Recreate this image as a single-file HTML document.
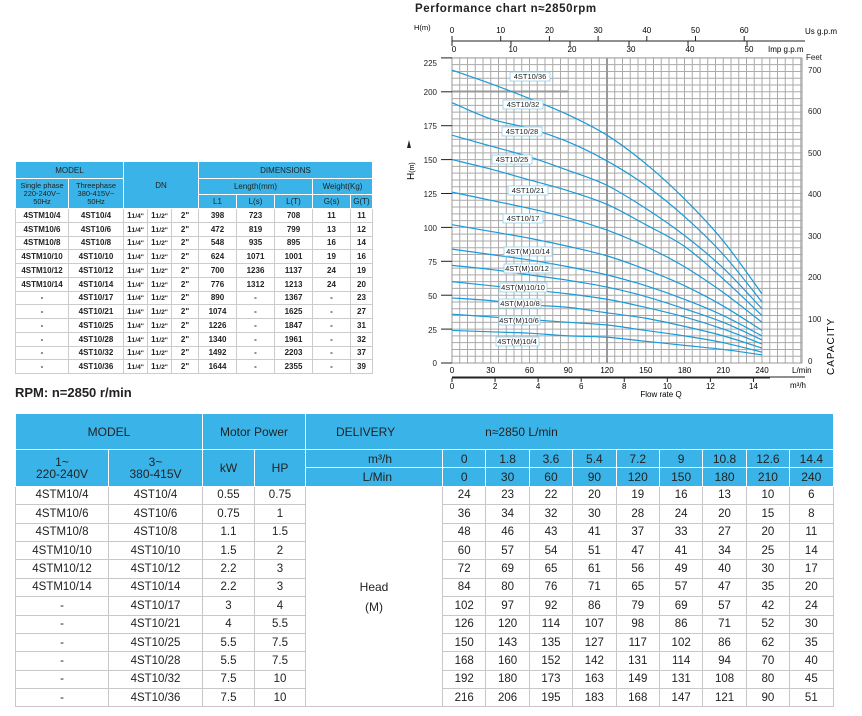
<!DOCTYPE html>
<html><head><meta charset="utf-8"><style>
*{margin:0;padding:0;box-sizing:border-box}
body{width:862px;height:716px;background:#fff;position:relative;overflow:hidden;font-family:"Liberation Sans",Arial,sans-serif;color:#222}
table{border-collapse:collapse;table-layout:fixed;position:absolute}
td{text-align:center;vertical-align:middle;overflow:hidden;white-space:nowrap;padding:0}
.t1{left:15px;top:161px;font-size:8px;font-weight:bold}
.t1 td{border:1px solid #ccc;height:13.75px}
.t1 .h td,.t1 td.h{background:#3ab4e8;border:1px solid #fff;font-weight:normal;color:#222}
.t2{left:15px;top:413px;font-size:11.5px}
.t2 td{border:1px solid #c8c8c8;height:18.4px}
.t2 td.h{background:#3ab4e8;border:1px solid #fff;font-size:12px}
.hd{position:absolute;font-weight:bold}
svg text{font-family:"Liberation Sans",Arial,sans-serif}
</style></head><body>
<div class="hd" style="left:415px;top:3px;font-size:11.5px;letter-spacing:.6px">Performance chart n≈2850rpm</div>
<div class="hd" style="left:15px;top:385px;font-size:13px">RPM: n=2850 r/min</div>

<svg id="ch" width="862" height="405" style="position:absolute;left:0;top:0">
<g id="grid"></g>
<g id="curves" fill="none" stroke="#1a9ad8" stroke-width="1.2"></g>
<g font-size="8" fill="#222" text-anchor="end">
<text x="437" y="66">225</text><text x="437" y="95">200</text><text x="437" y="129">175</text><text x="437" y="163">150</text><text x="437" y="197">125</text><text x="437" y="231">100</text><text x="437" y="265">75</text><text x="437" y="299">50</text><text x="437" y="333">25</text><text x="437" y="366">0</text>
</g>
<g font-size="8" fill="#222" text-anchor="start">
<text x="808" y="73">700</text><text x="808" y="114">600</text><text x="808" y="156">500</text><text x="808" y="197">400</text><text x="808" y="239">300</text><text x="808" y="280">200</text><text x="808" y="322">100</text><text x="808" y="364">0</text>
<text x="806" y="60">Feet</text>
</g>
<text x="414" y="30" font-size="7.5">H(m)</text>
<text x="805" y="34" font-size="8">Us g.p.m</text>
<text x="768" y="52" font-size="8">Imp g.p.m</text>
<g font-size="8" text-anchor="middle" id="topl"></g>
<line x1="452" y1="41" x2="805" y2="41" stroke="#222" stroke-width="1"/>
<line x1="452" y1="377" x2="805" y2="377" stroke="#222"/>
<line x1="452" y1="378" x2="770" y2="378" stroke="#222"/>
<text x="792" y="373" font-size="8">L/min</text>
<text x="790" y="388" font-size="8">m³/h</text>
<text x="661" y="397" font-size="8" text-anchor="middle">Flow rate Q</text>
<text transform="translate(834,375) rotate(-90)" font-size="10" letter-spacing="1">CAPACITY</text>
<text transform="translate(414,180) rotate(-90)" font-size="10">H<tspan font-size="7">(m)</tspan></text>
<polygon points="407,148 411,148 409,140" fill="#222"/>
<g font-size="7.5" text-anchor="middle" id="labels"></g>
</svg>

<script>
(function(){
var ns="http://www.w3.org/2000/svg";
function el(p,t,a){var e=document.createElementNS(ns,t);for(var k in a)e.setAttribute(k,a[k]);p.appendChild(e);return e;}
var g=document.getElementById('grid');
var X0=452,XR=802,Y0=363,YT=58,px=1.2917,py=1.356;
for(var i=0;i*7.75<=XR-X0+0.5;i++){var x=X0+i*7.75;el(g,'line',{x1:x,y1:YT,x2:x,y2:Y0,stroke:'#aaa','stroke-width':1});}
for(var j=0;j*6.78<=Y0-YT+0.5;j++){var y=Y0-j*6.78;el(g,'line',{x1:X0,y1:y,x2:XR,y2:y,stroke:'#aaa','stroke-width':1});}
el(g,'rect',{x:X0,y:YT,width:XR-X0,height:Y0-YT,fill:'none',stroke:'#999'});
el(g,'line',{x1:607,y1:YT,x2:607,y2:Y0,stroke:'#999','stroke-width':2});
el(g,'line',{x1:X0,y1:91.5,x2:568,y2:91.5,stroke:'#999','stroke-width':2});
for(var k=0;k<=9;k++){var y=Y0-k*25*py;el(g,'line',{x1:441,y1:y,x2:452,y2:y,stroke:'#222'});}
var tl=document.getElementById('topl');
for(var k=0;k<=6;k++){var x=452+k*10*4.87;el(g,'line',{x1:x,y1:36,x2:x,y2:41,stroke:'#222'});var t=el(tl,'text',{x:x,y:33});t.textContent=k*10;}
for(var k=0;k<=5;k++){var x=452+k*10*5.9;el(g,'line',{x1:x,y1:41,x2:x,y2:46,stroke:'#222'});var t=el(tl,'text',{x:x+2,y:52});t.textContent=k*10;}
for(var k=0;k<=8;k++){var x=452+k*30*px;var t=el(tl,'text',{x:x,y:373});t.textContent=k*30;}
for(var k=0;k<=7;k++){var x=452+k*2*16.67*px;el(g,'line',{x1:x,y1:378,x2:x,y2:382,stroke:'#222'});var t=el(tl,'text',{x:x,y:389});t.textContent=k*2;}
var D=[[24,23,22,20,19,16,13,10,6],[36,34,32,30,28,24,20,15,8],[48,46,43,41,37,33,27,20,11],[60,57,54,51,47,41,34,25,14],[72,69,65,61,56,49,40,30,17],[84,80,76,71,65,57,47,35,20],[102,97,92,86,79,69,57,42,24],[126,120,114,107,98,86,71,52,30],[150,143,135,127,117,102,86,62,35],[168,160,152,142,131,114,94,70,40],[192,180,173,163,149,131,108,80,45],[216,206,195,183,168,147,121,90,51]];
var c=document.getElementById('curves');
D.forEach(function(r){var P=r.map(function(h,i){return [X0+i*30*px,Y0-h*py];});
var d='M'+P[0][0]+','+P[0][1];
for(var i=0;i<P.length-1;i++){var p0=P[i-1]||P[i],p1=P[i],p2=P[i+1],p3=P[i+2]||P[i+1];
d+=' C'+(p1[0]+(p2[0]-p0[0])/6)+','+(p1[1]+(p2[1]-p0[1])/6)+' '+(p2[0]-(p3[0]-p1[0])/6)+','+(p2[1]-(p3[1]-p1[1])/6)+' '+p2[0]+','+p2[1];}
el(c,'path',{d:d});});
var L=[[510,72,40],[503,100,40],[502,127,40],[492,155,40],[508,186,40],[503,214,40],[504,247,48],[504,264,47],[500,283,47],[499,299,42],[499,316,41],[496,337,43]];
var lg=document.getElementById('labels');
L.forEach(function(l){el(lg,'rect',{x:l[0],y:l[1],width:l[2],height:9,fill:'#fff',stroke:'#8fd0ef','stroke-width':0.8});});
})();
</script>
<svg width="862" height="405" style="position:absolute;left:0;top:0">
<g font-size="7.5" text-anchor="middle" fill="#222" font-family="Liberation Sans,sans-serif">
<text x="530" y="79">4ST10/36</text><text x="523" y="107">4ST10/32</text><text x="522" y="134">4ST10/28</text><text x="512" y="162">4ST10/25</text><text x="528" y="193">4ST10/21</text><text x="523" y="221">4ST10/17</text><text x="528" y="254">4ST(M)10/14</text><text x="527" y="271">4ST(M)10/12</text><text x="523" y="290">4ST(M)10/10</text><text x="520" y="306">4ST(M)10/8</text><text x="519" y="323">4ST(M)10/6</text><text x="517" y="344">4ST(M)10/4</text>
</g></svg>

<table class="t1">
<colgroup><col style="width:53px"><col style="width:55px"><col style="width:24px"><col style="width:24px"><col style="width:27px"><col style="width:38px"><col style="width:38px"><col style="width:38px"><col style="width:38px"><col style="width:22px"></colgroup>
<tr class="h"><td colspan="2" style="height:17px">MODEL</td><td colspan="3" rowspan="3">DN</td><td colspan="5">DIMENSIONS</td></tr>
<tr class="h"><td rowspan="2" style="font-size:7.5px;line-height:8px">Single phase<br>220-240V~<br>50Hz</td><td rowspan="2" style="font-size:7.5px;line-height:8px">Threephase<br>380-415V~<br>50Hz</td><td colspan="3" style="height:16px">Length(mm)</td><td colspan="2">Weight(Kg)</td></tr>
<tr class="h"><td style="height:14px">L1</td><td>L(s)</td><td>L(T)</td><td>G(s)</td><td>G(T)</td></tr>
<tr><td>4STM10/4</td><td>4ST10/4</td><td>1<small>1/4"</small></td><td>1<small>1/2"</small></td><td>2"</td><td>398</td><td>723</td><td>708</td><td>11</td><td>11</td></tr>
<tr><td>4STM10/6</td><td>4ST10/6</td><td>1<small>1/4"</small></td><td>1<small>1/2"</small></td><td>2"</td><td>472</td><td>819</td><td>799</td><td>13</td><td>12</td></tr>
<tr><td>4STM10/8</td><td>4ST10/8</td><td>1<small>1/4"</small></td><td>1<small>1/2"</small></td><td>2"</td><td>548</td><td>935</td><td>895</td><td>16</td><td>14</td></tr>
<tr><td>4STM10/10</td><td>4ST10/10</td><td>1<small>1/4"</small></td><td>1<small>1/2"</small></td><td>2"</td><td>624</td><td>1071</td><td>1001</td><td>19</td><td>16</td></tr>
<tr><td>4STM10/12</td><td>4ST10/12</td><td>1<small>1/4"</small></td><td>1<small>1/2"</small></td><td>2"</td><td>700</td><td>1236</td><td>1137</td><td>24</td><td>19</td></tr>
<tr><td>4STM10/14</td><td>4ST10/14</td><td>1<small>1/4"</small></td><td>1<small>1/2"</small></td><td>2"</td><td>776</td><td>1312</td><td>1213</td><td>24</td><td>20</td></tr>
<tr><td>-</td><td>4ST10/17</td><td>1<small>1/4"</small></td><td>1<small>1/2"</small></td><td>2"</td><td>890</td><td>-</td><td>1367</td><td>-</td><td>23</td></tr>
<tr><td>-</td><td>4ST10/21</td><td>1<small>1/4"</small></td><td>1<small>1/2"</small></td><td>2"</td><td>1074</td><td>-</td><td>1625</td><td>-</td><td>27</td></tr>
<tr><td>-</td><td>4ST10/25</td><td>1<small>1/4"</small></td><td>1<small>1/2"</small></td><td>2"</td><td>1226</td><td>-</td><td>1847</td><td>-</td><td>31</td></tr>
<tr><td>-</td><td>4ST10/28</td><td>1<small>1/4"</small></td><td>1<small>1/2"</small></td><td>2"</td><td>1340</td><td>-</td><td>1961</td><td>-</td><td>32</td></tr>
<tr><td>-</td><td>4ST10/32</td><td>1<small>1/4"</small></td><td>1<small>1/2"</small></td><td>2"</td><td>1492</td><td>-</td><td>2203</td><td>-</td><td>37</td></tr>
<tr><td>-</td><td>4ST10/36</td><td>1<small>1/4"</small></td><td>1<small>1/2"</small></td><td>2"</td><td>1644</td><td>-</td><td>2355</td><td>-</td><td>39</td></tr>
</table>

<table class="t2">
<colgroup><col style="width:93px"><col style="width:94px"><col style="width:52px"><col style="width:51px"><col style="width:137px"><col span="9" style="width:43.4px"></colgroup>
<tr><td class="h" colspan="2" style="height:36px">MODEL</td><td class="h" colspan="2">Motor Power</td><td class="h" colspan="10" style="text-align:left;padding-left:30px">DELIVERY<span style="margin-left:90px">n≈2850 L/min</span></td></tr>
<tr><td class="h" rowspan="2" style="line-height:12px">1~<br>220-240V</td><td class="h" rowspan="2" style="line-height:12px">3~<br>380-415V</td><td class="h" rowspan="2">kW</td><td class="h" rowspan="2">HP</td><td class="h" style="height:17px;text-align:right;padding-right:50px">m³/h</td><td class="h">0</td><td class="h">1.8</td><td class="h">3.6</td><td class="h">5.4</td><td class="h">7.2</td><td class="h">9</td><td class="h">10.8</td><td class="h">12.6</td><td class="h">14.4</td></tr>
<tr><td class="h" style="height:18px;text-align:right;padding-right:50px">L/Min</td><td class="h">0</td><td class="h">30</td><td class="h">60</td><td class="h">90</td><td class="h">120</td><td class="h">150</td><td class="h">180</td><td class="h">210</td><td class="h">240</td></tr>
<tr><td>4STM10/4</td><td>4ST10/4</td><td>0.55</td><td>0.75</td><td rowspan="12" style="line-height:20px;font-size:12px">Head<br>(M)</td><td>24</td><td>23</td><td>22</td><td>20</td><td>19</td><td>16</td><td>13</td><td>10</td><td>6</td></tr>
<tr><td>4STM10/6</td><td>4ST10/6</td><td>0.75</td><td>1</td><td>36</td><td>34</td><td>32</td><td>30</td><td>28</td><td>24</td><td>20</td><td>15</td><td>8</td></tr>
<tr><td>4STM10/8</td><td>4ST10/8</td><td>1.1</td><td>1.5</td><td>48</td><td>46</td><td>43</td><td>41</td><td>37</td><td>33</td><td>27</td><td>20</td><td>11</td></tr>
<tr><td>4STM10/10</td><td>4ST10/10</td><td>1.5</td><td>2</td><td>60</td><td>57</td><td>54</td><td>51</td><td>47</td><td>41</td><td>34</td><td>25</td><td>14</td></tr>
<tr><td>4STM10/12</td><td>4ST10/12</td><td>2.2</td><td>3</td><td>72</td><td>69</td><td>65</td><td>61</td><td>56</td><td>49</td><td>40</td><td>30</td><td>17</td></tr>
<tr><td>4STM10/14</td><td>4ST10/14</td><td>2.2</td><td>3</td><td>84</td><td>80</td><td>76</td><td>71</td><td>65</td><td>57</td><td>47</td><td>35</td><td>20</td></tr>
<tr><td>-</td><td>4ST10/17</td><td>3</td><td>4</td><td>102</td><td>97</td><td>92</td><td>86</td><td>79</td><td>69</td><td>57</td><td>42</td><td>24</td></tr>
<tr><td>-</td><td>4ST10/21</td><td>4</td><td>5.5</td><td>126</td><td>120</td><td>114</td><td>107</td><td>98</td><td>86</td><td>71</td><td>52</td><td>30</td></tr>
<tr><td>-</td><td>4ST10/25</td><td>5.5</td><td>7.5</td><td>150</td><td>143</td><td>135</td><td>127</td><td>117</td><td>102</td><td>86</td><td>62</td><td>35</td></tr>
<tr><td>-</td><td>4ST10/28</td><td>5.5</td><td>7.5</td><td>168</td><td>160</td><td>152</td><td>142</td><td>131</td><td>114</td><td>94</td><td>70</td><td>40</td></tr>
<tr><td>-</td><td>4ST10/32</td><td>7.5</td><td>10</td><td>192</td><td>180</td><td>173</td><td>163</td><td>149</td><td>131</td><td>108</td><td>80</td><td>45</td></tr>
<tr><td>-</td><td>4ST10/36</td><td>7.5</td><td>10</td><td>216</td><td>206</td><td>195</td><td>183</td><td>168</td><td>147</td><td>121</td><td>90</td><td>51</td></tr>
</table>
</body></html>
